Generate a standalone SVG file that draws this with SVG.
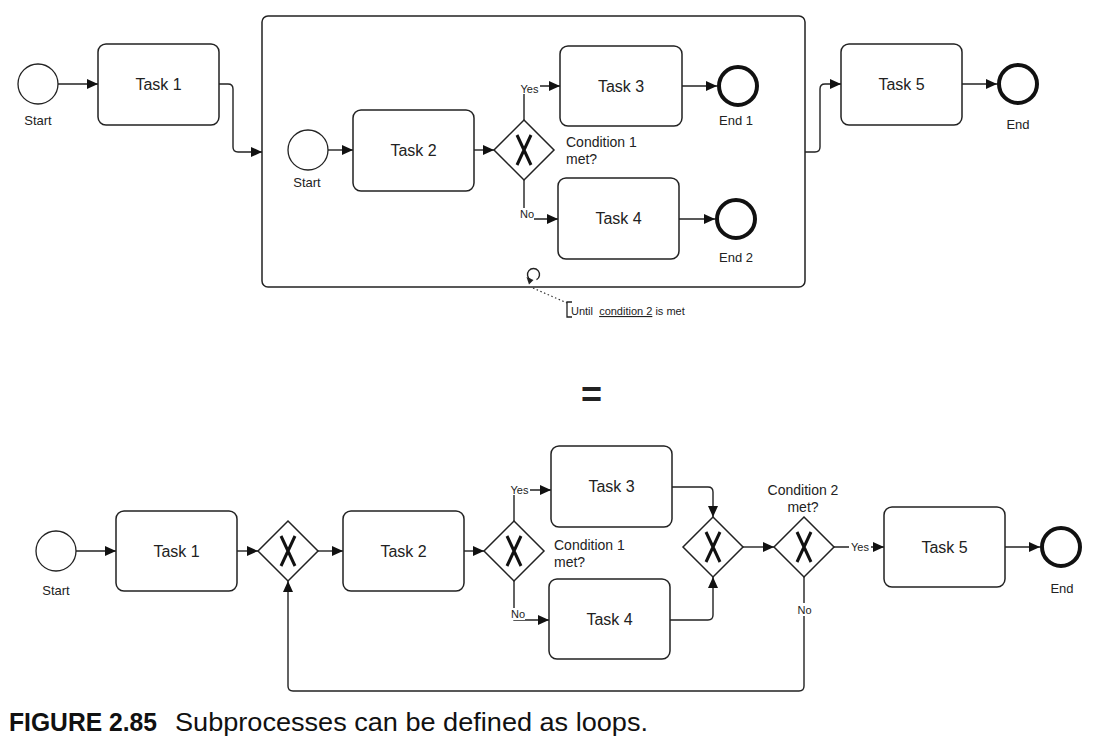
<svg xmlns="http://www.w3.org/2000/svg" width="1093" height="742" viewBox="0 0 1093 742">
<style>
.task{fill:#fff;stroke:#222;stroke-width:1.5}
.start{fill:#fff;stroke:#222;stroke-width:1.3}
.end{fill:#fff;stroke:#111;stroke-width:4}
.gw{fill:#fff;stroke:#222;stroke-width:1.5}
.x{stroke:#111;stroke-width:3;fill:none;stroke-linecap:butt}
.conn{fill:none;stroke:#222;stroke-width:1.4}
.tl{font-family:"Liberation Sans",Arial,sans-serif;font-size:16px;fill:#222;text-anchor:middle}
.lbl{font-family:"Liberation Sans",Arial,sans-serif;font-size:13px;fill:#222;text-anchor:middle}
.lbl2{font-family:"Liberation Sans",Arial,sans-serif;font-size:14px;fill:#222;text-anchor:middle}
.cond{font-family:"Liberation Sans",Arial,sans-serif;font-size:14px;fill:#222}
.sm{font-family:"Liberation Sans",Arial,sans-serif;font-size:11px;fill:#222;text-anchor:middle}
.bg{fill:#fff}
</style>
<defs>
<marker id="arr" markerUnits="userSpaceOnUse" markerWidth="12" markerHeight="10" refX="11" refY="5" orient="auto">
<path d="M0,0 L11,5 L0,10 Z" fill="#111"/>
</marker>
</defs>
<rect width="1093" height="742" fill="#fff"/>

<!-- ===== TOP DIAGRAM ===== -->
<g id="top-subprocess">
<rect x="262" y="16" width="543" height="271" rx="6" class="task"/>
<path d="M536.5,279.7 A6,6 0 1 0 530.5,279.7" fill="none" stroke="#222" stroke-width="1.4"/>
<path d="M526.5,277 L533.5,280 L529,284.5 Z" fill="#222"/>
</g>

<g id="top-connectors">
<path class="conn" d="M58,84 H98" marker-end="url(#arr)"/>
<path class="conn" d="M219,84 H228 Q233,84 233,89 V147 Q233,152 238,152 H262" marker-end="url(#arr)"/>
<path class="conn" d="M328,150 H353" marker-end="url(#arr)"/>
<path class="conn" d="M474,150 H494" marker-end="url(#arr)"/>
<path class="conn" d="M524,120 V86 H560" marker-end="url(#arr)"/>
<path class="conn" d="M524,180 V219 H558" marker-end="url(#arr)"/>
<path class="conn" d="M682,86 H717" marker-end="url(#arr)"/>
<path class="conn" d="M679,219 H715" marker-end="url(#arr)"/>
<path class="conn" d="M805,152 H815 Q820,152 820,147 V89 Q820,84 825,84 H841" marker-end="url(#arr)"/>
<path class="conn" d="M962,84 H997" marker-end="url(#arr)"/>
<path d="M533,288 L567,303" fill="none" stroke="#333" stroke-width="1.2" stroke-dasharray="1.5,2.5"/>
<path d="M572,302 H567 V317 H572" fill="none" stroke="#222" stroke-width="1.3"/>
<rect class="bg" x="519" y="82" width="21" height="12"/>
<text class="sm" x="529.5" y="93">Yes</text>
<rect class="bg" x="519" y="208" width="15" height="12"/>
<text class="sm" x="527" y="218">No</text>
</g>

<g id="top-start">
<circle cx="38" cy="84" r="20" class="start"/>
<text class="lbl" x="38" y="125">Start</text>
</g>
<g id="top-task1">
<rect x="98" y="44" width="121" height="81" rx="8" class="task"/>
<text class="tl" x="158.5" y="90">Task 1</text>
</g>
<g id="top-inner-start">
<circle cx="308" cy="150" r="20" class="start"/>
<text class="lbl" x="307" y="187">Start</text>
</g>
<g id="top-task2">
<rect x="353" y="110" width="121" height="81" rx="8" class="task"/>
<text class="tl" x="413.5" y="156">Task 2</text>
</g>
<g id="top-gateway1">
<path d="M524,120 L554,150 L524,180 L494,150 Z" class="gw"/>
<path class="x" d="M517,135 L531,165 M531,135 L517,165"/>
<text class="cond" x="566" y="147">Condition 1</text>
<text class="cond" x="566" y="164">met?</text>
</g>
<g id="top-task3">
<rect x="560" y="46" width="122" height="80" rx="8" class="task"/>
<text class="tl" x="621" y="92">Task 3</text>
</g>
<g id="top-end1">
<circle cx="738" cy="86" r="19" class="end"/>
<text class="lbl" x="736" y="125">End 1</text>
</g>
<g id="top-task4">
<rect x="558" y="178" width="121" height="81" rx="8" class="task"/>
<text class="tl" x="618.5" y="224">Task 4</text>
</g>
<g id="top-end2">
<circle cx="736" cy="219" r="19" class="end"/>
<text class="lbl" x="736" y="262">End 2</text>
</g>
<g id="top-loop-annotation">
<text font-family="'Liberation Sans',Arial,sans-serif" font-size="11" fill="#222" x="571" y="315" xml:space="preserve">Until  <tspan text-decoration="underline">condition 2</tspan> is met</text>
</g>
<g id="top-task5">
<rect x="841" y="44" width="121" height="81" rx="8" class="task"/>
<text class="tl" x="901.5" y="90">Task 5</text>
</g>
<g id="top-end">
<circle cx="1018" cy="84" r="19" class="end"/>
<text class="lbl" x="1018" y="129">End</text>
</g>

<text id="equals" x="591.5" y="407" font-family="'Liberation Sans',Arial,sans-serif" font-weight="bold" font-size="36" fill="#222" text-anchor="middle">=</text>

<!-- ===== BOTTOM DIAGRAM ===== -->
<g id="bottom-connectors">
<path class="conn" d="M76,551 H116" marker-end="url(#arr)"/>
<path class="conn" d="M237,551 H258" marker-end="url(#arr)"/>
<path class="conn" d="M318,551 H343" marker-end="url(#arr)"/>
<path class="conn" d="M464,551 H484" marker-end="url(#arr)"/>
<path class="conn" d="M514,521 V490 H551" marker-end="url(#arr)"/>
<path class="conn" d="M514,581 V620 H549" marker-end="url(#arr)"/>
<path class="conn" d="M672,487 H708 Q713,487 713,492 V517" marker-end="url(#arr)"/>
<path class="conn" d="M670,620 H708 Q713,620 713,615 V577" marker-end="url(#arr)"/>
<path class="conn" d="M743,547 H774" marker-end="url(#arr)"/>
<path class="conn" d="M834,547 H884" marker-end="url(#arr)"/>
<path class="conn" d="M1005,547 H1040" marker-end="url(#arr)"/>
<path class="conn" d="M804,577 V686 Q804,691 799,691 H293 Q288,691 288,686 V581" marker-end="url(#arr)"/>
<rect class="bg" x="509" y="483" width="21" height="12"/>
<text class="sm" x="519.5" y="494">Yes</text>
<rect class="bg" x="510" y="608" width="15" height="12"/>
<text class="sm" x="518" y="618">No</text>
<rect class="bg" x="849" y="541" width="22" height="12"/>
<text class="sm" x="860" y="551">Yes</text>
<rect class="bg" x="797" y="603" width="15" height="13"/>
<text class="sm" x="804.5" y="614">No</text>
</g>

<g id="bottom-start">
<circle cx="56" cy="551" r="20" class="start"/>
<text class="lbl" x="56" y="595">Start</text>
</g>
<g id="bottom-task1">
<rect x="116" y="511" width="121" height="80" rx="8" class="task"/>
<text class="tl" x="176.5" y="557">Task 1</text>
</g>
<g id="bottom-gatewayA">
<path d="M288,521 L318,551 L288,581 L258,551 Z" class="gw"/>
<path class="x" d="M281,536 L295,566 M295,536 L281,566"/>
</g>
<g id="bottom-task2">
<rect x="343" y="511" width="121" height="80" rx="8" class="task"/>
<text class="tl" x="403.5" y="557">Task 2</text>
</g>
<g id="bottom-gatewayB">
<path d="M514,521 L544,551 L514,581 L484,551 Z" class="gw"/>
<path class="x" d="M507,536 L521,566 M521,536 L507,566"/>
<text class="cond" x="554" y="550">Condition 1</text>
<text class="cond" x="554" y="567">met?</text>
</g>
<g id="bottom-task3">
<rect x="551" y="446" width="121" height="81" rx="8" class="task"/>
<text class="tl" x="611.5" y="492">Task 3</text>
</g>
<g id="bottom-task4">
<rect x="549" y="579" width="121" height="80" rx="8" class="task"/>
<text class="tl" x="609.5" y="625">Task 4</text>
</g>
<g id="bottom-merge">
<path d="M713,517 L743,547 L713,577 L683,547 Z" class="gw"/>
<path class="x" d="M706,532 L720,562 M720,532 L706,562"/>
</g>
<g id="bottom-gatewayC">
<path d="M804,517 L834,547 L804,577 L774,547 Z" class="gw"/>
<path class="x" d="M797,532 L811,562 M811,532 L797,562"/>
<text class="lbl2" x="803" y="495">Condition 2</text>
<text class="lbl2" x="803" y="512">met?</text>
</g>
<g id="bottom-task5">
<rect x="884" y="507" width="121" height="80" rx="8" class="task"/>
<text class="tl" x="944.5" y="553">Task 5</text>
</g>
<g id="bottom-end">
<circle cx="1061" cy="547" r="19" class="end"/>
<text class="lbl" x="1062" y="593">End</text>
</g>

<text id="caption" y="731" font-family="'Liberation Sans',Arial,sans-serif" font-size="25" fill="#111"><tspan x="9" font-weight="bold" textLength="148" lengthAdjust="spacingAndGlyphs">FIGURE 2.85</tspan><tspan x="175" textLength="473" lengthAdjust="spacingAndGlyphs">Subprocesses can be defined as loops.</tspan></text>
</svg>
